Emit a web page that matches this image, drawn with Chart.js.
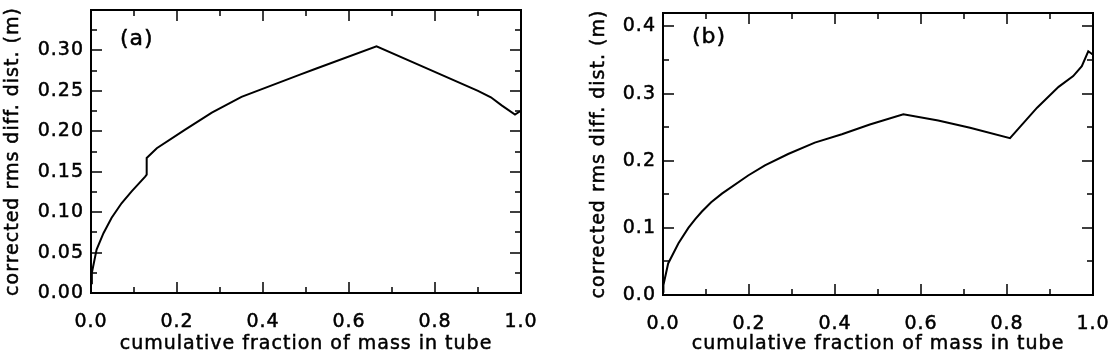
<!DOCTYPE html>
<html>
<head>
<meta charset="utf-8">
<script src="https://cdn.jsdelivr.net/npm/chart.js@4.4.1/dist/chart.umd.min.js"></script>
<style>
  html, body { margin: 0; padding: 0; background: #fff; }
  #wrap { position: relative; width: 1110px; height: 354px; }
  .pane { position: absolute; top: 0; }
</style>
</head>
<body>
<div id="wrap">
  <canvas id="chartA" class="pane" style="left:0" width="555" height="354"></canvas>
  <canvas id="chartB" class="pane" style="left:555px" width="555" height="354"></canvas>
</div>
<script>
// panel (a)
const aX = [0, 0.002, 0.013, 0.029, 0.048, 0.071, 0.095, 0.126, 0.1295, 0.1295, 0.153, 0.219, 0.281, 0.350, 0.405, 0.486, 0.521, 0.664, 0.773, 0.900, 0.930, 0.955, 0.986, 0.998];
const aY = [0.012, 0.025, 0.0536, 0.074, 0.093, 0.111, 0.126, 0.144, 0.1464, 0.167, 0.179, 0.202, 0.223, 0.2425, 0.2537, 0.270, 0.277, 0.305, 0.2797, 0.2500, 0.2420, 0.2320, 0.2207, 0.2248];
// panel (b)
const bX = [0, 0.001, 0.012, 0.036, 0.059, 0.075, 0.090, 0.112, 0.137, 0.198, 0.237, 0.291, 0.353, 0.416, 0.481, 0.559, 0.640, 0.714, 0.807, 0.870, 0.920, 0.954, 0.974, 0.989, 1.0];
const bY = [0.005, 0.015, 0.047, 0.077, 0.100, 0.113, 0.124, 0.138, 0.151, 0.178, 0.193, 0.210, 0.227, 0.2395, 0.254, 0.269, 0.260, 0.249, 0.2336, 0.2790, 0.3100, 0.326, 0.3407, 0.363, 0.358];

const xTicks = [0, 0.2, 0.4, 0.6, 0.8, 1.0];
const yTicksA = [0, 0.05, 0.10, 0.15, 0.20, 0.25, 0.30];
const yTicksB = [0, 0.1, 0.2, 0.3, 0.4];

const xTitle = 'cumulative fraction of mass in tube';
const yTitle = 'corrected rms diff. dist. (m)';
const FONT = 'DejaVu Sans';
const FSIZE = 19;

// wider letter spacing, like the original plotting font
const spacing = {
    id: 'spacing',
    beforeLayout(chart) { chart.ctx.letterSpacing = '1px'; },
    beforeDraw(chart) { chart.ctx.letterSpacing = '1px'; }
};

function heavyText(ctx, text, x, y) {
    ctx.fillText(text, x, y);
    ctx.strokeText(text, x, y);
}

// box with inward ticks on all four sides, IDL style, plus titles and panel label
const frameTicks = {
    id: 'frameTicks',
    afterDatasetsDraw(chart, args, opts) {
        const { ctx, chartArea: a, scales: { x, y } } = chart;
        ctx.save();
        ctx.strokeStyle = '#000';
        ctx.lineWidth = 1.5;
        ctx.beginPath();
        const major = 11, minor = 6;
        for (let v = x.min; v <= x.max + 1e-9; v += opts.xMinor) {
            const isMajor = Math.abs(v / opts.xMajor - Math.round(v / opts.xMajor)) < 1e-6;
            const len = isMajor ? major : minor;
            const px = Math.round(x.getPixelForValue(v));
            ctx.moveTo(px, a.bottom); ctx.lineTo(px, a.bottom - len);
            ctx.moveTo(px, a.top); ctx.lineTo(px, a.top + len);
        }
        for (let v = y.min; v <= y.max + 1e-9; v += opts.yMinor) {
            const isMajor = Math.abs(v / opts.yMajor - Math.round(v / opts.yMajor)) < 1e-6;
            const len = isMajor ? major : minor;
            const py = Math.round(y.getPixelForValue(v));
            ctx.moveTo(a.left, py); ctx.lineTo(a.left + len, py);
            ctx.moveTo(a.right, py); ctx.lineTo(a.right - len, py);
        }
        ctx.stroke();
        ctx.lineWidth = 2;
        ctx.strokeRect(a.left, a.top, a.width, a.height);

        ctx.fillStyle = '#000';
        ctx.lineWidth = 0.5;
        ctx.textBaseline = 'middle';
        ctx.font = '22px ' + FONT;
        heavyText(ctx, opts.label, a.left + opts.labelDx, a.top + opts.labelDy);

        ctx.font = FSIZE + 'px ' + FONT;
        ctx.textAlign = 'center';
        heavyText(ctx, xTitle, (a.left + a.right) / 2, opts.xTitleY);
        ctx.translate(opts.yTitleX, (a.top + a.bottom) / 2);
        ctx.rotate(-Math.PI / 2);
        heavyText(ctx, yTitle, 0, 0);
        ctx.restore();
    }
};

function makePanel(id, xs, ys, yMax, yTicks, yDigits, dims, tickOpts) {
    const points = xs.map((v, i) => ({ x: v, y: ys[i] }));
    const tickFont = { family: FONT, size: FSIZE };
    return new Chart(document.getElementById(id), {
        type: 'scatter',
        data: {
            datasets: [{
                data: points,
                showLine: true,
                borderColor: '#000',
                borderWidth: 2,
                pointRadius: 0,
                tension: 0
            }]
        },
        options: {
            responsive: false,
            animation: false,
            layout: { padding: { top: dims.top, right: dims.right, left: 0, bottom: 0 } },
            plugins: {
                legend: { display: false },
                tooltip: { enabled: false },
                frameTicks: tickOpts
            },
            scales: {
                x: {
                    type: 'linear',
                    min: 0, max: 1,
                    border: { display: false },
                    grid: { display: false, drawTicks: false },
                    afterBuildTicks: s => { s.ticks = xTicks.map(v => ({ value: v })); },
                    afterFit: s => { s.height = dims.xHeight; s.paddingLeft = 0; s.paddingRight = 0; },
                    ticks: {
                        color: '#000',
                        textStrokeColor: '#000',
                        textStrokeWidth: 0.5,
                        padding: 18,
                        maxRotation: 0,
                        font: tickFont,
                        callback: v => v.toFixed(1)
                    }
                },
                y: {
                    type: 'linear',
                    min: 0, max: yMax,
                    border: { display: false },
                    grid: { display: false, drawTicks: false },
                    afterBuildTicks: s => { s.ticks = yTicks.map(v => ({ value: v })); },
                    afterFit: s => { s.width = dims.yWidth; s.paddingTop = 0; s.paddingBottom = 0; },
                    ticks: {
                        color: '#000',
                        textStrokeColor: '#000',
                        textStrokeWidth: 0.5,
                        padding: 7,
                        font: tickFont,
                        callback: v => v.toFixed(yDigits)
                    }
                }
            }
        },
        plugins: [spacing, frameTicks]
    });
}

makePanel('chartA', aX, aY, 0.35, yTicksA, 2,
    { top: 10, right: 34, xHeight: 61, yWidth: 91 },
    { xMajor: 0.2, xMinor: 0.1, yMajor: 0.05, yMinor: 0.025, label: '(a)', labelDx: 29, labelDy: 29, xTitleY: 344, yTitleX: 13 });

makePanel('chartB', bX, bY, 0.42, yTicksB, 1,
    { top: 13, right: 17, xHeight: 59, yWidth: 108 },
    { xMajor: 0.2, xMinor: 0.1, yMajor: 0.1, yMinor: 0.05, label: '(b)', labelDx: 29, labelDy: 24, xTitleY: 344, yTitleX: 44 });
</script>
</body>
</html>
